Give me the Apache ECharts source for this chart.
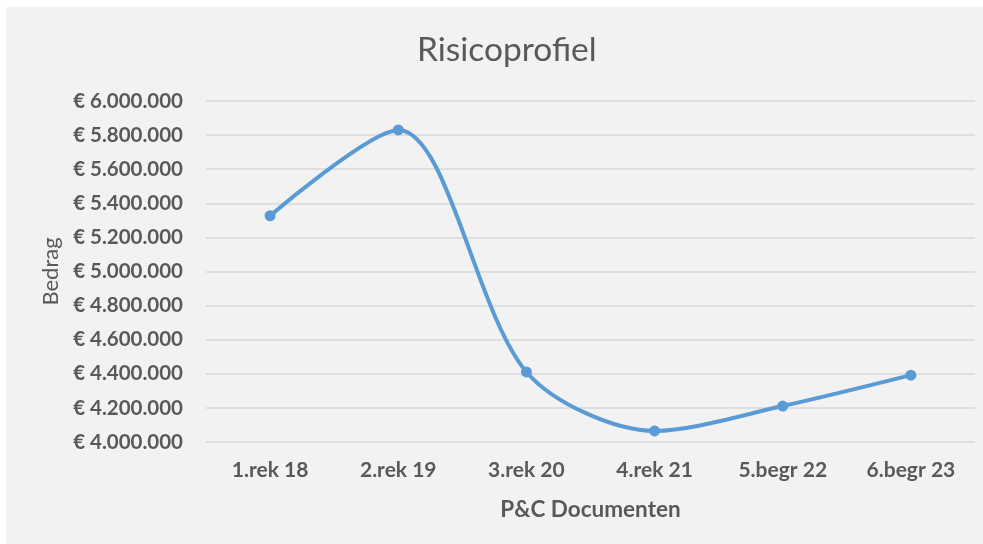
<!DOCTYPE html>
<html>
<head>
<meta charset="utf-8">
<script src="https://cdn.jsdelivr.net/npm/echarts@6/dist/echarts.min.js"></script>
<style>
  html, body { margin: 0; padding: 0; background: #ffffff; }
  #panel { position: absolute; left: 6px; top: 7px; width: 977px; height: 537px; background: #f2f2f2; }
  #chart { position: absolute; left: 0; top: 0; width: 983px; height: 544px; }
</style>
</head>
<body>
<div id="panel"></div>
<div id="chart"></div>
<script>
const chartTitle = 'Risicoprofiel';
const xAxisTitle = 'P&C Documenten';
const yAxisTitle = 'Bedrag';
const categories = ['1.rek 18', '2.rek 19', '3.rek 20', '4.rek 21', '5.begr 22', '6.begr 23'];
const bedrag = [5327000, 5830000, 4411000, 4065000, 4211000, 4392000];
const yMin = 4000000;
const yMax = 6000000;
const yStep = 200000;

function euro(v) {
  return '€ ' + String(Math.round(v)).replace(/\B(?=(\d{3})+(?!\d))/g, '.');
}

const chart = echarts.init(document.getElementById('chart'), null, { renderer: 'canvas' });
const fontFam = 'Lato, "Open Sans", sans-serif';
chart.setOption({
  backgroundColor: 'transparent',
  animation: false,
  title: {
    text: chartTitle,
    left: 412,
    top: 28,
    textStyle: { fontFamily: fontFam, fontSize: 33.5, fontWeight: 'normal', color: '#595959' }
  },
  grid: { left: 206, right: 8, top: 101, bottom: 102, containLabel: false },
  xAxis: {
    type: 'category',
    data: categories,
    boundaryGap: true,
    name: xAxisTitle,
    nameLocation: 'middle',
    nameGap: 56,
    nameTextStyle: { fontFamily: fontFam, fontSize: 22.5, fontWeight: 'bold', color: '#595959' },
    axisLine: { show: false },
    axisTick: { show: false },
    axisLabel: { margin: 18, fontFamily: fontFam, fontSize: 21, fontWeight: 'bold', color: '#595959' }
  },
  yAxis: {
    type: 'value',
    min: yMin,
    max: yMax,
    interval: yStep,
    name: yAxisTitle,
    nameLocation: 'middle',
    nameGap: 140,
    nameRotate: 90,
    nameTextStyle: { fontFamily: fontFam, fontSize: 22, fontWeight: 'normal', color: '#595959' },
    axisLine: { show: false },
    axisTick: { show: false },
    splitLine: { show: true, lineStyle: { color: '#d9d9d9', width: 1.5 } },
    axisLabel: {
      margin: 23,
      fontFamily: fontFam, fontSize: 20.5, fontWeight: 'bold', color: '#595959',
      formatter: euro
    }
  },
  series: [{
    type: 'line',
    data: bedrag,
    smooth: 0.3,
    symbol: 'circle',
    symbolSize: 11,
    lineStyle: { color: '#5b9bd5', width: 4 },
    itemStyle: { color: '#5b9bd5' }
  }]
});
</script>
</body>
</html>
